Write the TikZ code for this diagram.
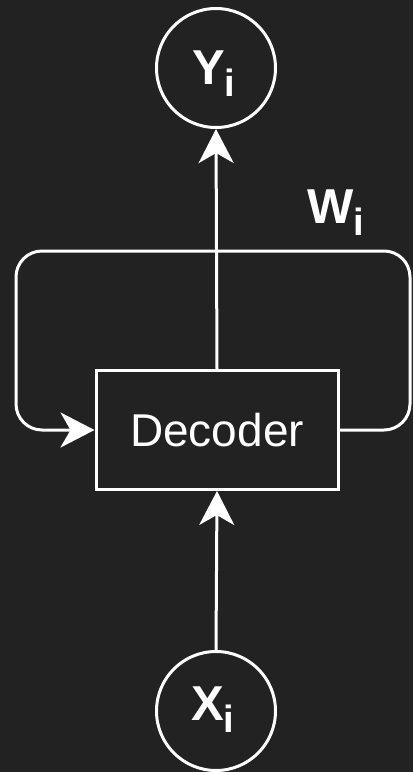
\documentclass[tikz,border=0pt]{standalone}
\usepackage{fontspec}
\setmainfont{Liberation Sans}
\usetikzlibrary{arrows.meta}
\definecolor{bg}{HTML}{222222}
\begin{document}
\begin{tikzpicture}[x=1pt,y=-1pt,
  wline/.style={draw=white,line width=3pt},
  arr/.style={-{Stealth[length=34pt,width=35pt,inset=10pt]}},
  circ/.style={wline,circle,minimum size=119pt,inner sep=0pt},
  lab/.style={text=white,anchor=base west,inner sep=0pt,font=\fontsize{49}{49}\selectfont\bfseries}]
\fill[bg] (0,0) rectangle (413,772);
\useasboundingbox (0,0) rectangle (413,772);
\node[circ] (Y) at (216,68) {};
\node[circ] (X) at (216,711) {};
\node[wline,rectangle,minimum width=242pt,minimum height=119pt,inner sep=0pt,text=white,font=\fontsize{46}{46}\selectfont] (D) at (217,430) {Decoder};
\node[lab] (Yl) at (192,84) {Y\raisebox{-12pt}{\fontsize{38}{38}\selectfont i}};
\node[lab] (Xl) at (191,720) {X\raisebox{-12pt}{\fontsize{38}{38}\selectfont i}};
\node[lab] (Wl) at (307,223) {W\raisebox{-12pt}{\fontsize{38}{38}\selectfont i}};
\draw[wline,arr] (D.north) -- (Y.south);
\draw[wline,arr] (X.north) -- (D.south);
\draw[wline,arr,rounded corners=26pt] (D.east) -- (410,430) -- (410,251) -- (16,251) -- (16,430) -- (D.west);
\end{tikzpicture}
\end{document}
